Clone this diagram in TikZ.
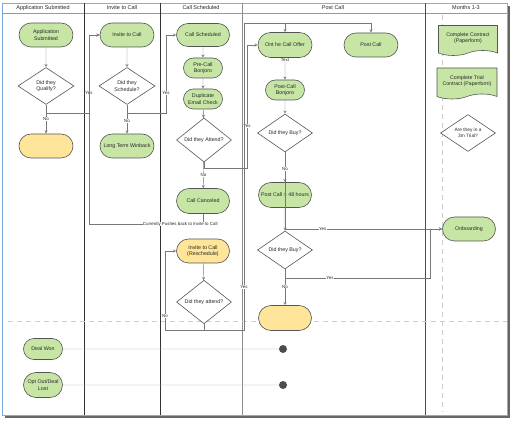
\documentclass[tikz,border=0pt]{standalone}
\usepackage{fontspec}
\setmainfont{Liberation Sans}
\usetikzlibrary{shapes.geometric,shapes.symbols,shapes.misc}
\definecolor{leaf}{RGB}{199,230,166}
\definecolor{sand}{RGB}{255,229,153}
\definecolor{rim}{RGB}{85,85,85}
\definecolor{wire}{RGB}{120,120,120}
\definecolor{edgeblue}{RGB}{120,170,220}
\begin{document}
\begin{tikzpicture}[x=1pt,y=-1pt,>=stealth]
\tikzstyle{terminal} = [
 rounded rectangle,
 draw=rim,
 line width=0.6pt,
 fill=leaf,
 text=black!85,
 align=center,
 inner sep=1pt,
 minimum height=24,
 minimum width=56,
 font=\fontsize{5.3}{6.3}\selectfont
]
\tikzstyle{small} = [
 terminal,
 minimum height=20,
 minimum width=41
]
\tikzstyle{blank} = [
 terminal,
 fill=sand
]
\tikzstyle{decision} = [
 diamond,
 draw=rim,
 line width=0.6pt,
 fill=white,
 text=black!85,
 align=center,
 inner sep=0pt,
 minimum height=37,
 minimum width=56,
 font=\fontsize{5.3}{6.3}\selectfont
]
\tikzstyle{paper} = [
 tape,
 tape bend top=none,
 tape bend bottom=in and out,
 tape bend height=5pt,
 draw=rim,
 line width=0.6pt,
 fill=leaf,
 text=black!85,
 align=center,
 inner sep=1pt,
 minimum height=30,
 minimum width=59,
 font=\fontsize{5.2}{6.2}\selectfont
]
\tikzstyle{lbl} = [
 fill=white,
 text=black!85,
 inner sep=0.4pt,
 font=\fontsize{4.4}{4.9}\selectfont
]
\tikzstyle{lane} = [
 text=black!85,
 font=\fontsize{5.5}{6.5}\selectfont
]
\tikzstyle{dot} = [
 circle,
 fill=black!70,
 minimum size=8,
 inner sep=0pt
]
\useasboundingbox (0,0) rectangle (512,422);
\fill[black!60] (5,6) rectangle (509.5,417.5);
\fill[white] (2,3) rectangle (507,415);
\draw[black!35] (2,3) rectangle (507,415);
\draw[edgeblue] (2,3) -- (2,415);
\draw[black!40] (2,13) -- (507,13);
\foreach \x/\c in {84/black!80,160/black!80,242/black!45,425/black!70}
 \draw[\c] (\x,3) -- (\x,415);
\draw[black!20,line width=0.9pt,dash pattern=on 5pt off 4pt] (8,321) -- (507,321);
\draw[black!20,line width=0.9pt,dash pattern=on 5pt off 4pt] (442,15) -- (442,412);

\node[lane] at (43,8) (h1) {Application Submitted};
\node[lane] at (122,8) (h2) {Invite to Call};
\node[lane] at (201,8) (h3) {Call Scheduled};
\node[lane] at (333,8) (h4) {Post Call};
\node[lane] at (466,8) (h5) {Months 1-3};

\node[terminal] at (46,35) (appsub) {Application\\Submitted};
\node[decision] at (46,86) (qualify) {Did they\\Qualify?};
\node[blank] at (46,146) (lost1) {};
\node[terminal] at (127,35) (invite) {Invite to Call};
\node[decision] at (127,86) (schedule) {Did they\\Schedule?};
\node[terminal] at (127,146) (winback) {Long Term Winback};
\node[terminal,minimum width=55,minimum height=23] at (203,35) (callsch) {Call Scheduled};
\node[small] at (203,68) (precall) {Pre-Call\\Bonjoro};
\node[small] at (203,99) (dupl) {Duplicate\\Email Check};
\node[decision,minimum width=55] at (204,140) (attend) {Did they Attend?};
\node[terminal,minimum width=55,minimum height=25] at (203,201) (canceled) {Call Canceled};
\node[blank,minimum width=55] at (203,251) (resched) {Invite to Call\\(Reschedule)};
\node[decision,minimum width=55] at (204,302) (attend2) {Did they attend?};
\node[terminal,minimum height=25] at (285,45) (offer) {Ont he Call Offer};
\node[terminal] at (371,45) (postcall) {Post Call};
\node[small] at (285,90) (pcbonjoro) {Post-Call\\Bonjoro};
\node[decision,minimum width=55] at (285,133) (buy) {Did they Buy?};
\node[terminal,minimum width=55,minimum height=25] at (285,195) (post48) {Post Call > 48 hours};
\node[decision,minimum width=55,minimum height=36] at (285,250) (buy2) {Did they Buy?};
\node[blank,minimum width=55,minimum height=25] at (285,318) (lost2) {};
\node[terminal,minimum width=55] at (469,229) (onboard) {Onboarding};
\node[paper] at (468,38) (contract) {Complete Contract\\(Paperform)};
\node[paper,minimum width=60,minimum height=31] at (467,81) (trial) {Complete Trial\\Contract (Paperform)};
\node[decision,minimum width=55,font=\fontsize{4.8}{5.8}\selectfont] at (468,133) (trial3m) {Are they in a\\3m Trial?};
\node[small,minimum height=21] at (43,349) (dealwon) {Deal Won};
\node[small,minimum height=25] at (43,385) (optout) {Opt Out/Deal\\Lost};
\node[dot] at (283,349) (dot1) {};
\node[dot] at (283,385) (dot2) {};

\coordinate (yq) at (89,113);
\coordinate (ys) at (166,113);
\coordinate (ya) at (247,168);
\coordinate (ypush) at (89,224);
\coordinate (yn2) at (165,330);
\coordinate (ya2) at (244,330);
\coordinate (ytop) at (244,23);
\coordinate (yb2) at (430,278);

\begin{scope}[wire,line width=0.45pt]
\path[draw,->] (appsub) -- (qualify);
\path[draw,->] (qualify) -- node[lbl]{No} (lost1);
\path[draw,->] (qualify.south) |- (yq) |- node[lbl,pos=0.13]{Yes} (invite.west);
\path[draw,->] (invite) -- (schedule);
\path[draw,->] (schedule) -- node[lbl,pos=0.57]{No} (winback);
\path[draw,->] (schedule.south) |- (ys) |- node[lbl,pos=0.13]{Yes} (callsch.west);
\path[draw,->] (callsch) -- (precall);
\path[draw,->] (precall) -- (dupl);
\path[draw,->] (dupl) -- (attend);
\path[draw,->] (attend) -- node[lbl]{No} (canceled);
\path[draw,->] (attend.south) |- (ya) |- node[lbl,pos=0.17]{Yes} (offer.west);
\path[draw,->] (canceled.south) |- node[lbl,pos=0.6]{Currently Pushes back to Invite to Call} (ypush) |- (invite.west);
\path[draw,->] (resched) -- (attend2);
\path[draw,->] (attend2.south) |- (yn2) |- node[lbl,pos=0.09]{No} (resched.west);
\path[draw,->] (attend2.south) |- (ya2) -- node[lbl,pos=0.14]{Yes} (ytop) -| (postcall.north);
\path[draw,->] (ytop -| offer.north) -- (offer.north);
\path[draw,->] (offer) -- node[lbl,pos=0.12]{Text} (pcbonjoro);
\path[draw,->] (pcbonjoro) -- (buy);
\path[draw,->] (buy.south) |- node[lbl,pos=0.62]{Yes} (onboard.west);
\path[draw,->] (buy) -- node[lbl,pos=0.56]{No} (post48);
\path[draw,->] (post48) -- (buy2);
\path[draw,->] (buy2.south) |- node[lbl,pos=0.655]{Yes} (yb2) |- (onboard.west);
\path[draw,->] (buy2) -- node[lbl,pos=0.48]{No} (lost2);
\path[draw,black!35] (dealwon) -- (dot1);
\path[draw,black!35] (optout) -- (dot2);
\end{scope}
\end{tikzpicture}
\end{document}
